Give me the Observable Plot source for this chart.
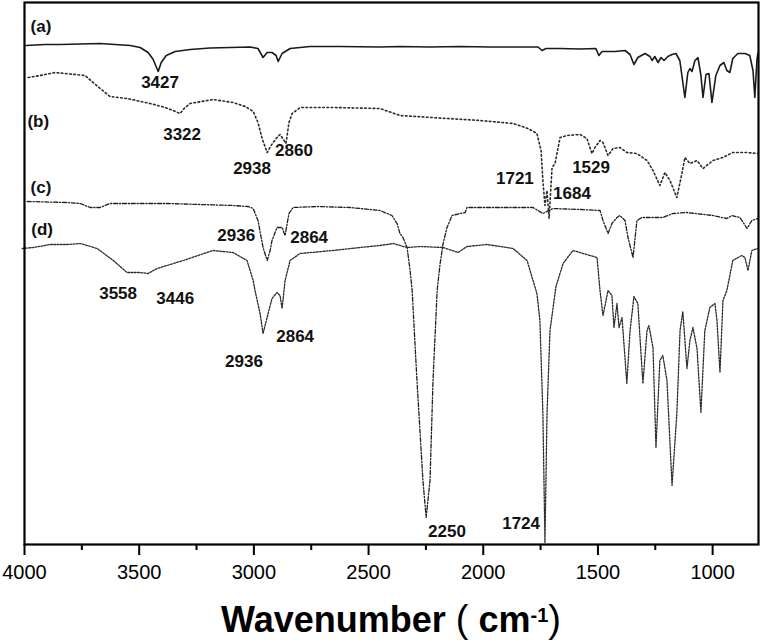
<!DOCTYPE html>
<html>
<head>
<meta charset="utf-8">
<script src="https://cdn.jsdelivr.net/npm/d3@7"></script>
<script src="https://cdn.jsdelivr.net/npm/@observablehq/plot@0.6"></script>
<style>
  html, body { margin: 0; padding: 0; background: #fff; }
  #wrap { position: relative; width: 762px; height: 643px; font-family: "Liberation Sans", Arial, sans-serif; }
  #title { position: absolute; left: 0; width: 782px; top: 601px; text-align: center; font-size: 36px; line-height: 36px; color: #000; white-space: nowrap; }
  #title b { font-weight: bold; }
  #title .p { font-weight: normal; font-size: 38px; }
  #title sup { font-size: 20px; font-weight: bold; position: relative; top: -4px; vertical-align: top; }
</style>
</head>
<body>
<div id="wrap">
  <div id="chart"></div>
  <div id="title"><b>Wavenumber</b> <span class="p">(</span> <b>cm</b><sup>-1</sup><span class="p">)</span></div>
</div>
<script>
// Wavenumber (cm^-1), offset transmittance (a.u.)
const traceA = [
  [3993,499],[3910,500],[3845,500],[3757,500.5],[3670,501],[3605,500],[3539,499],[3496,497],[3461,492],[3439,485],
  [3417,473],[3404,482],[3382,489],[3343,493],[3278,495],[3191,496.5],[3104,497],[3016,497.5],[2982,496],[2960,487],
  [2942,492],[2921,492],[2903,489],[2894,483],[2877,491],[2842,496],[2755,498],[2624,498],[2450,497.5],[2363,498],
  [2232,497.5],[2101,498],[1970,497.5],[1840,497.5],[1761,497.5],[1744,494],[1726,496],[1665,496],[1578,495.5],[1509,496],
  [1496,489],[1482,493],[1426,493],[1382,494],[1360,490],[1343,480],[1326,487],[1295,491],[1273,488],[1264,484],
  [1252,488],[1238,482],[1225,487],[1212,484],[1195,488],[1177,490],[1160,491],[1143,484],[1134,469],[1121,447],
  [1108,472],[1099,476],[1090,473],[1077,484],[1064,487],[1051,469],[1042,447],[1029,470],[1016,471],[1003,442],
  [986,469],[968,479],[951,482],[938,474],[925,472],[912,486],[890,491],[859,491],[838,489],[824,474],
  [816,447],[807,484],[803,491]
];
const traceB = [
  [3984,467],[3932,469],[3866,472],[3823,471],[3779,470],[3736,469],[3701,462],[3670,456],[3627,448],[3553,446],
  [3452,441],[3387,437],[3352,434],[3322,431],[3304,436],[3278,441],[3178,445],[3091,442],[3038,438],[3003,433],
  [2982,422],[2964,406],[2942,392],[2925,399],[2903,406],[2886,410],[2868,404],[2860,401],[2847,422],[2833,431],
  [2798,437],[2655,437],[2450,436],[2363,429],[2158,426],[2014,424],[1870,421],[1805,416],[1766,411],[1748,394],
  [1740,364],[1731,339],[1722,354],[1713,326],[1700,377],[1687,381],[1665,407],[1635,409],[1578,410],[1548,406],
  [1526,391],[1513,397],[1491,404],[1478,402],[1456,389],[1434,396],[1404,397],[1374,392],[1330,391],[1286,384],
  [1260,374],[1230,359],[1208,372],[1186,364],[1156,347],[1134,371],[1121,387],[1099,381],[1068,384],[1042,376],
  [999,384],[955,387],[912,392],[850,392],[803,391]
];
const traceC = [
  [3988,343],[3814,342],[3757,341],[3714,337],[3670,337],[3627,341],[3378,341],[3091,339],[3025,338],[3003,336],
  [2982,324],[2960,297],[2942,284],[2929,294],[2921,304],[2899,317],[2877,317],[2864,309],[2847,331],[2829,337],
  [2724,338],[2581,337],[2450,334],[2398,329],[2376,321],[2363,311],[2350,307],[2332,297],[2319,274],[2310,254],
  [2289,164],[2263,64],[2249,27],[2232,64],[2219,164],[2201,254],[2188,281],[2175,301],[2158,317],[2136,329],
  [2101,331],[2079,332],[2071,337],[2014,337],[1927,337],[1783,337],[1740,331],[1696,336],[1578,335],[1491,334],
  [1478,324],[1456,311],[1439,321],[1417,327],[1404,329],[1382,324],[1369,307],[1347,287],[1330,324],[1308,327],
  [1217,327],[1173,331],[1112,332],[999,329],[938,326],[916,329],[881,327],[850,316],[829,324],[803,326]
];
const traceD = [
  [4010,296],[3962,297],[3888,300],[3814,300],[3757,301],[3683,296],[3613,284],[3553,272],[3496,272],[3461,271],
  [3422,276],[3308,284],[3178,294],[3091,292],[3030,284],[3003,264],[2995,254],[2973,231],[2960,211],[2938,231],
  [2921,246],[2899,252],[2886,249],[2877,236],[2864,264],[2851,276],[2842,284],[2799,291],[2655,294],[2537,297],
  [2450,299],[2393,301],[2332,297],[2276,298],[2175,297],[2110,292],[2071,298],[1984,300],[1870,296],[1809,284],
  [1766,251],[1753,224],[1740,131],[1731,2],[1722,131],[1709,214],[1683,258],[1652,281],[1609,294],[1565,291],
  [1504,287],[1491,254],[1478,229],[1456,254],[1439,249],[1430,217],[1417,241],[1408,217],[1395,227],[1374,161],
  [1360,214],[1343,248],[1326,241],[1304,161],[1286,214],[1278,219],[1260,197],[1247,97],[1230,184],[1217,189],
  [1199,164],[1177,59],[1156,131],[1142,214],[1130,233],[1112,176],[1099,204],[1086,217],[1068,196],[1051,132],
  [1034,214],[1012,237],[990,241],[981,224],[968,172],[955,244],[938,254],[912,284],[873,289],[859,287],
  [846,274],[829,294],[803,296]
];

// Annotations
const labelText = ["(a)","(b)","(c)","(d)","3427","3322","2938","2860","2936","2864","3558","3446","2936","2864","2250","1724","1721","1684","1529"];
const labelWn   = [3928,3940,3928,3923,3409,3313,3008,2825,3077,2759,3592,3343,3043,2820,2158,1835,1862,1613,1530];
const labelT    = [518,423,357,315,462,410,376,394,309,307,251,246,183,208,13,21,366,351,377];

const majorTicks = [4000,3500,3000,2500,2000,1500,1000];
const minorTicks = [3750,3250,2750,2250,1750,1250];

const labels = labelText.map((t,i) => ({t, x: labelWn[i], y: labelT[i]}));
const X = d => d[0], Y = d => d[1];

const chart = Plot.plot({
  width: 762,
  height: 594,
  marginLeft: 24,
  marginRight: 4,
  marginTop: 2,
  marginBottom: 50,
  style: {fontFamily: "Liberation Sans, Arial, sans-serif", background: "#fff", color: "#000"},
  x: {domain: [4000, 800], axis: null},
  y: {domain: [0, 542], axis: null},
  marks: [
    Plot.line(traceA, {x: X, y: Y, stroke: "#1a1a1a", strokeWidth: 1.6}),
    Plot.line(traceB, {x: X, y: Y, stroke: "#2a2a2a", strokeWidth: 1.6, strokeDasharray: "1.6,2.6"}),
    Plot.line(traceC, {x: X, y: Y, stroke: "#1e1e1e", strokeWidth: 1.3, strokeDasharray: "4,1.8,1.2,1.8"}),
    Plot.line(traceD, {x: X, y: Y, stroke: "#2a2a2a", strokeWidth: 1.3, strokeDasharray: "1.8,1.4"}),
    Plot.text(labels, {x: "x", y: "y", text: "t", fontSize: 17, fontWeight: "bold", fill: "#111", textAnchor: "middle"}),
    Plot.frame({stroke: "#000", strokeWidth: 2.2}),
    Plot.axisX(majorTicks, {anchor: "bottom", tickSize: 11, tickPadding: 9, fontSize: 20, strokeWidth: 2, tickFormat: d => String(d), label: null}),
    Plot.axisX(minorTicks, {anchor: "bottom", tickSize: 6, strokeWidth: 2, tickFormat: () => "", label: null})
  ]
});
document.getElementById("chart").appendChild(chart);
</script>
</body>
</html>
